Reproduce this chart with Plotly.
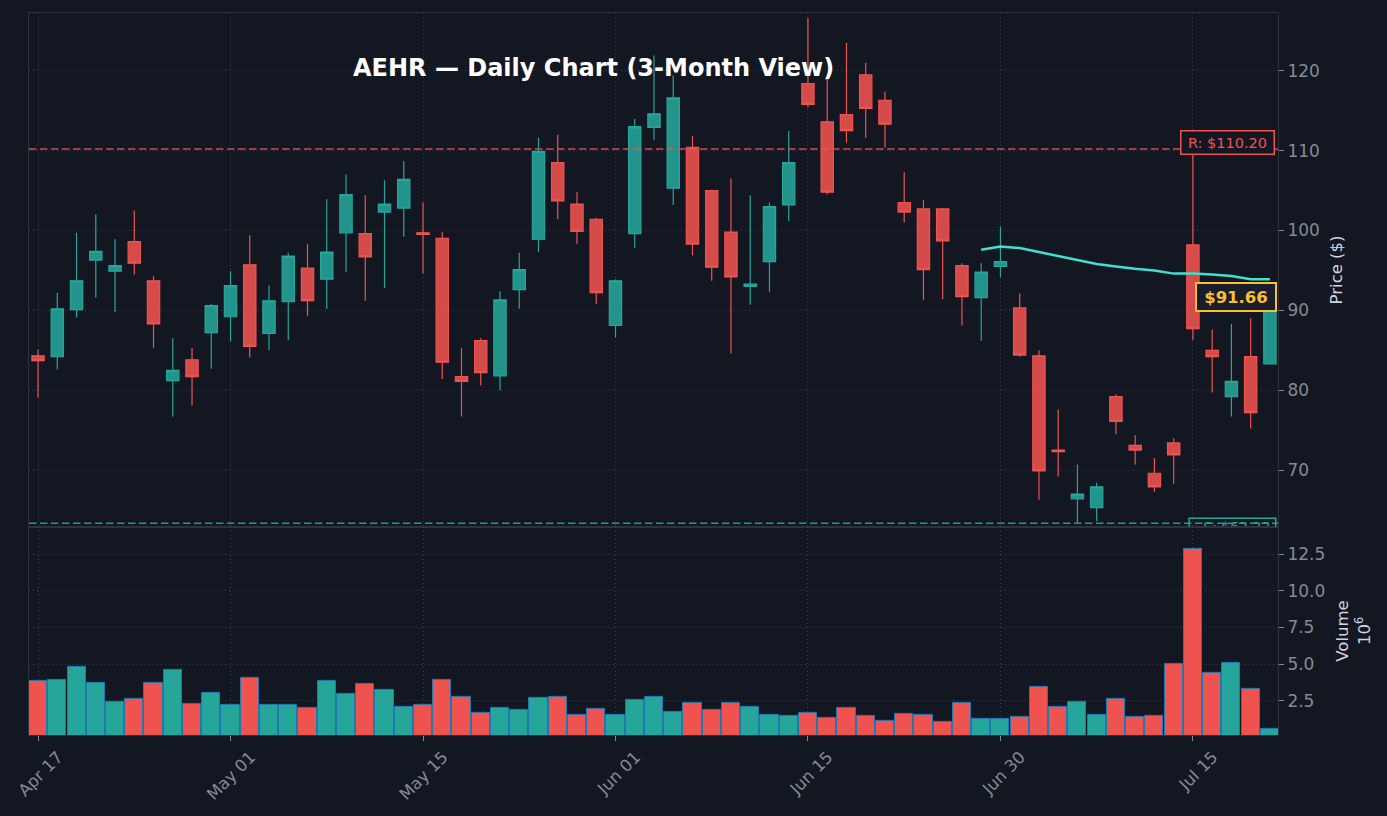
import plotly.graph_objects as go

# ---------------- data ----------------
chart_title = "AEHR — Daily Chart (3-Month View)"

opens = [84.3, 84.2, 90.1, 96.3, 94.9, 98.6, 93.7, 81.2, 83.8, 87.2,
         89.2, 95.7, 87.1, 91.1, 95.3, 93.9, 99.7, 99.6, 102.3, 102.8,
         99.7, 99.0, 81.7, 86.2, 81.8, 92.6, 98.9, 108.5, 103.3, 101.4,
         88.1, 99.6, 112.9, 105.3, 110.4, 105.0, 99.8, 93.0, 96.1, 103.2,
         118.4, 113.6, 114.5, 119.5, 116.3, 103.5, 102.7, 102.7, 95.6, 91.6,
         95.5, 90.3, 84.3, 72.5, 66.4, 65.3, 79.2, 73.1, 69.6, 73.4,
         98.2, 85.0, 79.2, 84.2, 83.3]
highs = [85.1, 92.2, 99.7, 102.0, 98.9, 102.5, 94.3, 86.5, 85.3, 90.8,
         94.9, 99.4, 93.1, 97.2, 98.3, 103.9, 107.0, 104.4, 106.3, 108.7,
         103.5, 99.8, 85.3, 86.5, 92.4, 97.2, 111.6, 112.0, 104.8, 101.6,
         93.9, 114.0, 121.9, 119.4, 111.8, 105.1, 106.5, 104.4, 103.5, 112.5,
         126.6, 118.8, 123.5, 121.0, 117.4, 107.3, 103.8, 102.8, 95.9, 95.9,
         100.5, 92.1, 85.0, 77.6, 70.7, 68.4, 79.5, 74.4, 71.5, 74.0,
         110.6, 87.6, 88.3, 89.0, 92.0]
lows = [79.1, 82.6, 89.1, 91.6, 89.8, 94.5, 85.3, 76.7, 78.1, 82.7,
        86.1, 84.1, 85.0, 86.3, 89.3, 90.2, 94.8, 91.2, 92.8, 99.2,
        94.6, 81.4, 76.7, 80.6, 80.0, 90.2, 97.3, 101.4, 98.3, 90.8,
        86.6, 97.8, 111.3, 103.2, 96.9, 93.7, 84.6, 90.7, 92.3, 101.2,
        115.4, 104.5, 111.0, 111.6, 110.4, 101.0, 91.3, 91.4, 88.1, 86.2,
        94.1, 84.2, 66.3, 69.2, 63.33, 63.6, 74.5, 70.7, 67.3, 68.3,
        86.3, 79.7, 76.7, 75.2, 83.2]
closes = [83.7, 90.2, 93.7, 97.4, 95.6, 95.9, 88.3, 82.5, 81.7, 90.6,
          93.1, 85.5, 91.2, 96.8, 91.2, 97.3, 104.5, 96.7, 103.3, 106.4,
          99.5, 83.5, 81.1, 82.2, 91.3, 95.1, 109.9, 103.7, 99.9, 92.2,
          93.7, 113.0, 114.6, 116.6, 98.3, 95.4, 94.2, 93.3, 103.0, 108.5,
          115.8, 104.8, 112.5, 115.3, 113.3, 102.3, 95.1, 98.7, 91.7, 94.8,
          96.1, 84.4, 69.9, 72.3, 67.0, 67.9, 76.1, 72.5, 67.9, 71.9,
          87.7, 84.2, 81.1, 77.2, 91.66]
volumes_m = [3.85, 3.92, 4.82, 3.74, 2.46, 2.66, 3.74, 4.60, 2.32, 3.07,
             2.19, 4.08, 2.23, 2.23, 1.99, 3.85, 3.00, 3.67, 3.27, 2.12,
             2.19, 3.92, 2.77, 1.71, 1.99, 1.85, 2.73, 2.80, 1.56, 1.92,
             1.51, 2.59, 2.80, 1.78, 2.39, 1.85, 2.39, 2.12, 1.51, 1.45,
             1.65, 1.31, 2.05, 1.45, 1.11, 1.58, 1.51, 1.04, 2.39, 1.24,
             1.24, 1.38, 3.45, 2.10, 2.46, 1.51, 2.66, 1.38, 1.45, 5.03,
             12.86, 4.42, 5.09, 3.34, 0.57]
sma50 = [None] * 49 + [97.6, 98.0, 97.8, 97.3, 96.8, 96.3, 95.8, 95.5,
                       95.2, 95.0, 94.6, 94.6, 94.5, 94.3, 93.9, 93.9]

tick_positions = [0, 10, 20, 30, 40, 50, 60]
tick_labels = ["Apr 17", "May 01", "May 15", "Jun 01", "Jun 15", "Jun 30", "Jul 15"]
price_ticks = [70, 80, 90, 100, 110, 120]
volume_ticks = [2.5, 5.0, 7.5, 10.0, 12.5]
volume_tick_labels = ["2.5", "5.0", "7.5", "10.0", "12.5"]

resistance = 110.20
support = 63.33
last_price = closes[-1]

# ---------------- style ----------------
BG = "#131722"
UP = "#26a69a"
DOWN = "#ef5350"
GRID = "#3a3e4a"
SPINE = "#2e323c"
TICKC = "#858a94"
LABELC = "#d1d4dc"
GOLD = "#fbc02d"
FONT = "DejaVu Sans"

idx = list(range(len(opens)))
n = len(idx)
vol_colors = [UP if c >= o else DOWN for o, c in zip(opens, closes)]

fig = go.Figure()

fig.add_trace(go.Candlestick(
    x=idx, open=opens, high=highs, low=lows, close=closes,
    xaxis="x", yaxis="y", whiskerwidth=0, showlegend=False,
    increasing=dict(line=dict(color=UP, width=1.2), fillcolor="rgba(38,166,154,0.88)"),
    decreasing=dict(line=dict(color=DOWN, width=1.2), fillcolor="rgba(239,83,80,0.88)"),
))

fig.add_trace(go.Scatter(
    x=idx, y=sma50, mode="lines", xaxis="x", yaxis="y", showlegend=False,
    line=dict(color="#40e0d0", width=2.5), connectgaps=False,
))

fig.add_trace(go.Bar(
    x=idx, y=volumes_m, xaxis="x2", yaxis="y2", width=0.94, showlegend=False,
    marker=dict(color=vol_colors, line=dict(color="#1f77b4", width=1)),
))

# support label, clipped by the price panel like in the reference
fig.add_trace(go.Scatter(
    x=[n - 1 + 0.02], y=[support - 0.6], mode="text", xaxis="x", yaxis="y",
    text=[f"S: ${support:.2f}"], textposition="middle left", cliponaxis=True,
    textfont=dict(color=UP, size=14, family=FONT), showlegend=False,
))

shapes = [
    dict(type="line", xref="paper", x0=0, x1=1, yref="y", y0=resistance, y1=resistance,
         line=dict(color="rgba(239,83,80,0.85)", width=1.5, dash="7.5px,3.5px"), layer="above"),
    dict(type="line", xref="paper", x0=0, x1=1, yref="y", y0=support, y1=support,
         line=dict(color="rgba(38,166,154,0.9)", width=1.5, dash="7.5px,3.5px"), layer="above"),
    dict(type="rect", xref="x", yref="y", x0=n - 1 - 4.2, x1=n - 1 + 0.3,
         y0=support - 2.6, y1=support + 0.65,
         line=dict(color=UP, width=1.5), fillcolor="rgba(0,0,0,0)", layer="above"),
]

annotations = [
    dict(text=f"<b>{chart_title}</b>", xref="paper", yref="paper", x=0.4516, y=0.924,
         xanchor="center", yanchor="middle", showarrow=False,
         font=dict(family=FONT, size=24, color="#ffffff")),
    dict(text=f"R: ${resistance:.2f}", xref="paper", yref="y", x=0.9976, y=resistance,
         xanchor="right", yanchor="middle", yshift=7, showarrow=False,
         font=dict(family=FONT, size=14.5, color=DOWN), bgcolor=BG,
         bordercolor=DOWN, borderwidth=1.5, borderpad=1, width=90, height=20),
    dict(text=f"<b>${last_price:.2f}</b>", xref="paper", yref="y", x=0.9992, y=last_price,
         xanchor="right", yanchor="middle", showarrow=False,
         font=dict(family=FONT, size=16.5, color=GOLD), bgcolor="#1a1d2b",
         bordercolor=GOLD, borderwidth=2, borderpad=1, width=76, height=24),
]

xr = [-0.47, n - 1 + 0.42]
price_dom = [1 - 516 / 725, 1]
vol_dom = [0, 1 - 516 / 725]

common_x = dict(range=xr, tickvals=tick_positions, showgrid=True, gridcolor=GRID,
                griddash="1px,3px", gridwidth=1, zeroline=False, showline=True,
                mirror=True, linecolor=SPINE, linewidth=1)
common_y = dict(side="right", showgrid=True, gridcolor=GRID, griddash="1px,3px", gridwidth=1,
                zeroline=False, showline=True, mirror=True, linecolor=SPINE, linewidth=1,
                ticks="outside", ticklen=5, tickcolor=TICKC,
                tickfont=dict(family=FONT, size=17, color=TICKC))

fig.update_layout(
    width=1387, height=816,
    paper_bgcolor=BG, plot_bgcolor=BG,
    margin=dict(l=29, r=109, t=12, b=79),
    font=dict(family=FONT, color=TICKC),
    boxgap=0.36, boxgroupgap=0,
    bargap=0,
    showlegend=False,
    hovermode=False,
    xaxis=dict(**common_x, domain=[0, 1], anchor="y", showticklabels=False, ticks="",
               rangeslider=dict(visible=False)),
    xaxis2=dict(**common_x, domain=[0, 1], anchor="y2", ticktext=tick_labels,
                tickangle=-45, ticks="outside", ticklen=5, tickcolor=TICKC,
                ticklabeloverflow="allow", ticklabelshift=20,
                tickfont=dict(family=FONT, size=16.5, color=TICKC)),
    yaxis=dict(**common_y, domain=price_dom, anchor="x", range=[62.89, 127.23],
               tickvals=price_ticks,
               title=dict(text="Price ($)", font=dict(family=FONT, size=16.5, color=LABELC),
                          standoff=11)),
    yaxis2=dict(**common_y, domain=vol_dom, anchor="x2", range=[0.17, 14.35],
                tickvals=volume_ticks, ticktext=volume_tick_labels,
                title=dict(text="Volume<br>10<sup>6</sup>",
                           font=dict(family=FONT, size=16.5, color=LABELC), standoff=12)),
    shapes=shapes,
    annotations=annotations,
)

fig.write_html("out.html")
